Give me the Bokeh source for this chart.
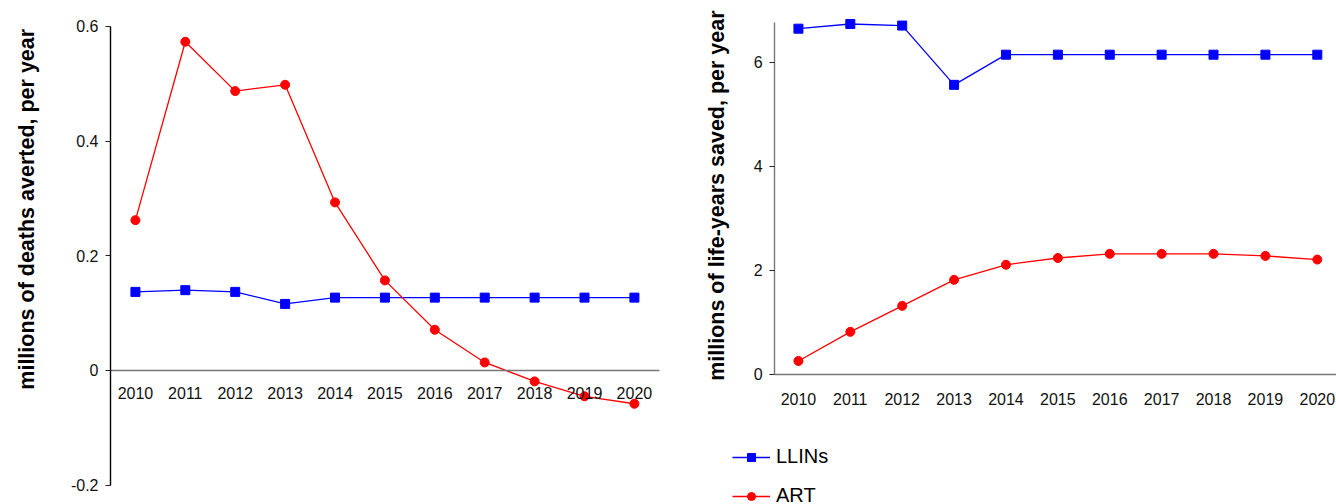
import math
from bokeh.plotting import figure
from bokeh.layouts import row
from bokeh.models import FixedTicker, Label, Legend, LegendItem
from bokeh.embed import file_html
from bokeh.resources import INLINE

years = [2010, 2011, 2012, 2013, 2014, 2015, 2016, 2017, 2018, 2019, 2020]

deaths_llins = [0.137, 0.140, 0.137, 0.116, 0.127, 0.127, 0.127, 0.127, 0.127, 0.127, 0.127]
deaths_art = [0.262, 0.573, 0.487, 0.498, 0.293, 0.157, 0.071, 0.014, -0.019, -0.045, -0.058]

lifeyears_llins = [6.65, 6.74, 6.71, 5.57, 6.15, 6.15, 6.15, 6.15, 6.15, 6.15, 6.15]
lifeyears_art = [0.26, 0.82, 1.32, 1.82, 2.11, 2.24, 2.32, 2.32, 2.32, 2.28, 2.21]

left_ticks = [-0.2, 0, 0.2, 0.4, 0.6]
left_tick_labels = {0: "0", -0.2: "-0.2"}
right_ticks = [0, 2, 4, 6]

left_title = "millions of deaths averted, per year"
right_title = "millions of life-years saved, per year"
series_names = ["LLINs", "ART"]

FONT = "Liberation Sans"
BLUE = "#0000ff"
RED = "#ff0000"
AXIS_GRAY = "#777777"
TXT = "#111111"


def base_fig(width, xr, yr):
    p = figure(width=width, height=504, x_range=xr, y_range=yr,
               output_backend="svg", toolbar_location=None, min_border=0)
    p.outline_line_color = None
    p.grid.visible = False
    return p


def style_yaxis(ax, ticks, line_color, loc, bounds):
    ax.fixed_location = loc
    ax.bounds = bounds
    ax.ticker = FixedTicker(ticks=ticks)
    ax.axis_line_color = line_color
    ax.axis_line_width = 1.4
    ax.major_tick_out = 5
    ax.major_tick_in = 0
    ax.major_tick_line_color = "#222222"
    ax.minor_tick_line_color = None
    ax.major_label_text_font = FONT
    ax.major_label_text_font_size = "16px"
    ax.major_label_text_color = TXT
    ax.major_label_standoff = 7


def style_xaxis(ax, bounds, standoff):
    ax.fixed_location = 0
    ax.bounds = bounds
    ax.ticker = FixedTicker(ticks=years)
    ax.axis_line_color = AXIS_GRAY
    ax.axis_line_width = 1.5
    ax.major_tick_line_color = None
    ax.major_tick_out = 0
    ax.major_tick_in = 0
    ax.minor_tick_line_color = None
    ax.major_label_text_font = FONT
    ax.major_label_text_font_size = "16px"
    ax.major_label_text_color = TXT
    ax.major_label_standoff = standoff


def title_label(x, y, text):
    return Label(x=x, y=y, x_units="data", y_units="data", text=text,
                 angle=math.pi / 2, text_align="center", text_baseline="middle",
                 text_font=FONT, text_font_size="21.5px", text_font_style="bold",
                 text_color="black")


# ---------------- left panel ----------------
p1 = base_fig(690, (2007.296, 2021.124), (-0.2336, 0.6449))
style_yaxis(p1.yaxis[0], left_ticks, "black", 2009.5, (-0.2, 0.6))
p1.yaxis[0].major_label_overrides = left_tick_labels
style_xaxis(p1.xaxis[0], (2009.5, 2020.5), 17)

p1.line(years, deaths_llins, line_color=BLUE, line_width=1.3)
p1.scatter(years, deaths_llins, marker="square", size=9, color=BLUE)
p1.line(years, deaths_art, line_color=RED, line_width=1.3)
p1.scatter(years, deaths_art, marker="circle", size=9, color=RED)
p1.add_layout(title_label(2007.837, 0.281, left_title))

# ---------------- right panel ----------------
p2 = base_fig(646, (2007.92, 2020.37), (-2.5, 7.192))
style_yaxis(p2.yaxis[0], right_ticks, AXIS_GRAY, 2009.54, (0, 6.77))
style_xaxis(p2.xaxis[0], (2009.54, 2020.37), 19)

l_line = p2.line(years, lifeyears_llins, line_color=BLUE, line_width=1.3)
l_sc = p2.scatter(years, lifeyears_llins, marker="square", size=9, color=BLUE)
a_line = p2.line(years, lifeyears_art, line_color=RED, line_width=1.3)
a_sc = p2.scatter(years, lifeyears_art, marker="circle", size=9, color=RED)
p2.add_layout(title_label(2008.44, 3.44, right_title))

legend = Legend(items=[LegendItem(label=series_names[0], renderers=[l_line, l_sc]),
                       LegendItem(label=series_names[1], renderers=[a_line, a_sc])],
                location=(42, -3), orientation="vertical",
                label_text_font=FONT, label_text_font_size="20px", label_text_color="black",
                glyph_width=38, glyph_height=20, label_standoff=6, spacing=16,
                padding=0, margin=0, border_line_color=None, background_fill_alpha=0)
p2.add_layout(legend, "center")

layout = row(p1, p2)
open("out.html", "w").write(file_html(layout, INLINE))
